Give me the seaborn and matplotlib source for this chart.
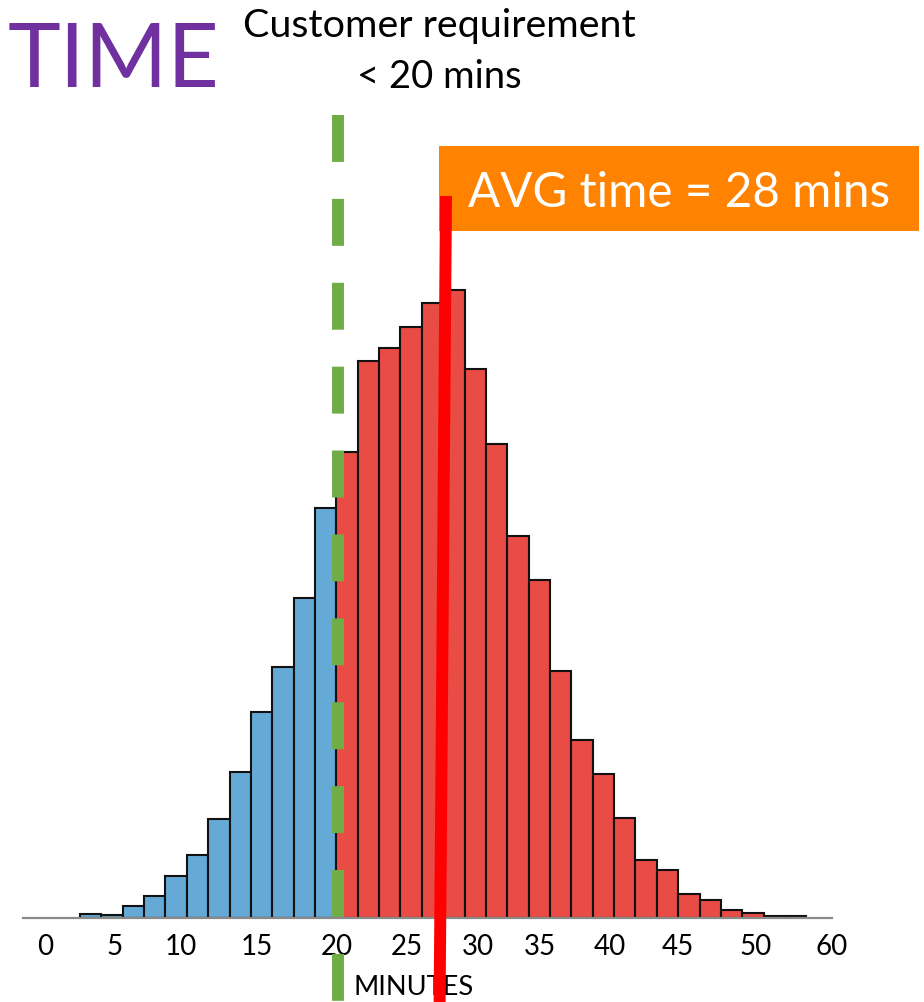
import numpy as np
import pandas as pd
import matplotlib
matplotlib.use("Agg")
import matplotlib.pyplot as plt
import matplotlib.transforms as mtransforms
from matplotlib.lines import Line2D
from matplotlib.patches import Rectangle
import seaborn as sns

# ---------------- data ----------------
bin_start = 2.0          # minutes, left edge of the first bar
bin_width = 1.5          # minutes per bar
within_counts = [4, 3, 12, 22, 42, 63, 99, 146, 206, 251, 320, 410]
over_counts = [466, 557, 570, 591, 615, 628, 549, 474, 382, 338, 247, 178,
               144, 100, 58, 48, 24, 18, 8, 5, 2, 2]
# tick labels sit where the reference places them (slightly off the nominal values)
tick_positions = [-0.45, 4.4, 9.05, 14.45, 20.05, 24.95, 29.95, 34.3, 39.2, 44.0, 49.4, 54.8]
tick_labels = ["0", "5", "10", "15", "20", "25", "30", "35", "40", "45", "50", "60"]
requirement_minutes = 20
avg_line_minutes = [27.25, 27.7]   # red marker (bottom, top) as drawn
title_text = "TIME"
requirement_text = ["Customer requirement", "< 20 mins"]
avg_text = "AVG time = 28 mins"
xlabel_text = "MINUTES"

# ---------------- build table ----------------
counts = within_counts + over_counts
n = len(counts)
edges = [float(e) for e in bin_start + np.arange(n + 1) * bin_width]
centers = [e + bin_width / 2 for e in edges[:-1]]
groups = ["within"] * len(within_counts) + ["over"] * len(over_counts)
df = pd.DataFrame({"minutes": centers, "count": counts, "group": groups})

sns.set_theme(style="white")
plt.rcParams["font.family"] = ["Lato", "DejaVu Sans"]
plt.rcParams["lines.scale_dashes"] = False

W, H = 924, 1003
fig = plt.figure(figsize=(W / 100, H / 100), dpi=100)
fig.patch.set_facecolor("white")

ax_h = 640
ax = fig.add_axes([23 / W, (H - 919) / H, 809 / W, ax_h / H])
ax.set_facecolor("none")

sns.histplot(data=df, x="minutes", weights="count", hue="group", bins=edges,
             palette={"within": "#65A9D7", "over": "#E94B45"},
             hue_order=["over", "within"],
             multiple="layer", alpha=1, edgecolor="#111111", linewidth=1.5,
             legend=False, ax=ax)

ax.set_xlim(-2.0, 54.8)
ax.set_ylim(0, ax_h)
for s in ["left", "right", "top"]:
    ax.spines[s].set_visible(False)
ax.spines["bottom"].set_color("#8a8a8a")
ax.spines["bottom"].set_linewidth(1.6)
ax.set_yticks([])
ax.set_xticks(tick_positions)
ax.set_xticklabels(tick_labels, fontsize=20, color="black")
ax.tick_params(axis="x", length=0, pad=11)
ax.set_xlabel("")
ax.set_ylabel("")

# ---------------- overlays ----------------
blend = mtransforms.blended_transform_factory(ax.transData, fig.transFigure)

# green dashed requirement line
fig.add_artist(Line2D([requirement_minutes + 0.1, requirement_minutes + 0.1],
                      [1 - 116 / H, 0], transform=blend, color="#70AD47",
                      linewidth=8.6, linestyle=(0, (33.8, 26.6)),
                      solid_capstyle="butt", dash_capstyle="butt", zorder=5))

# orange box with avg text
fig.add_artist(Rectangle((439 / W, 1 - 232 / H), 480 / W, 85 / H,
                         transform=fig.transFigure, facecolor="#FF8200",
                         edgecolor="none", zorder=3))
t_avg = fig.text(679 / W, 1 - 207 / H, avg_text, color="white",
                 ha="center", va="baseline", fontsize=34, zorder=4)

# red average line
fig.add_artist(Line2D(avg_line_minutes, [0, 1 - 197 / H], transform=blend,
                      color="#FF0000", linewidth=8.6, solid_capstyle="butt",
                      zorder=6))

t_title = fig.text(8 / W, 1 - 86.7 / H, title_text, color="#7030A0",
                   ha="left", va="baseline", fontsize=80)
t_req1 = fig.text(439.5 / W, 1 - 36.7 / H, requirement_text[0], color="black",
                  ha="center", va="baseline", fontsize=26)
t_req2 = fig.text(439.5 / W, 1 - 88.3 / H, requirement_text[1], color="black",
                  ha="center", va="baseline", fontsize=26)
t_xl = fig.text(353 / W, 1 - 995 / H, xlabel_text, color="black",
                ha="left", va="baseline", fontsize=15, zorder=2)

# fit text widths to the reference
fig.canvas.draw()
r = fig.canvas.get_renderer()
for t, target in [(t_avg, 422), (t_title, 212), (t_req1, 393),
                  (t_req2, 165), (t_xl, 120)]:
    w = t.get_window_extent(r).width
    t.set_fontsize(t.get_fontsize() * target / w)

fig.savefig("out.png", dpi=100)
